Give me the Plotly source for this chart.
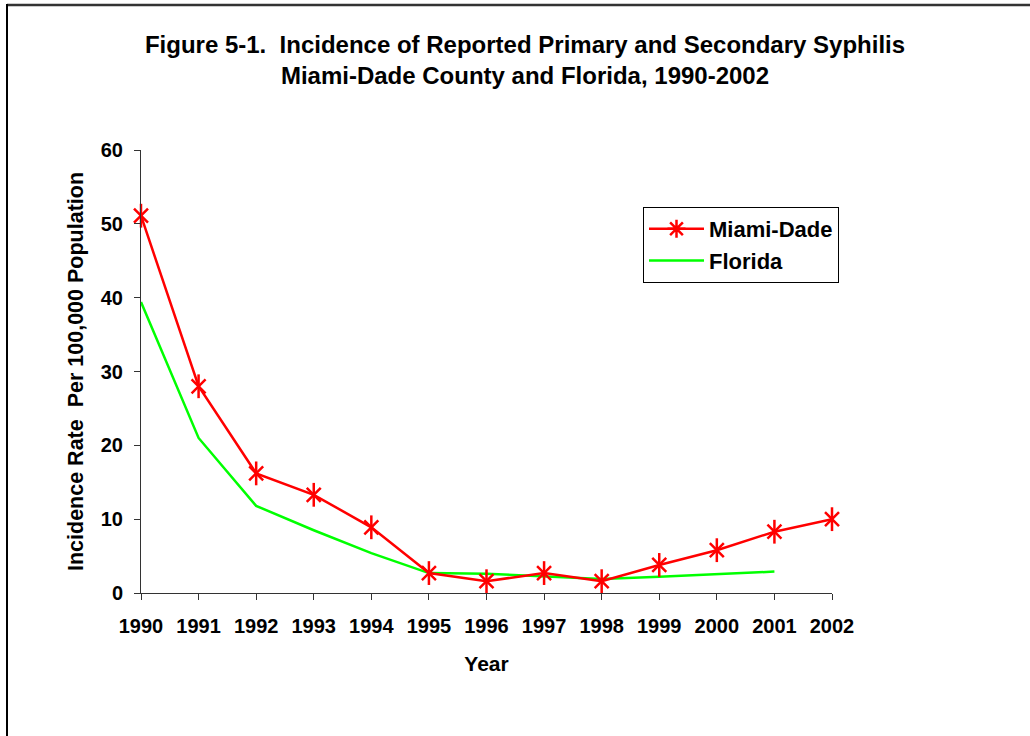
import plotly.graph_objects as go

years = [1990, 1991, 1992, 1993, 1994, 1995, 1996, 1997, 1998, 1999, 2000, 2001, 2002]
miami_dade = [51.1, 28.0, 16.2, 13.3, 8.9, 2.7, 1.6, 2.7, 1.6, 3.8, 5.8, 8.3, 10.0]
florida_years = [1990, 1991, 1992, 1993, 1994, 1995, 1996, 1997, 1998, 1999, 2000, 2001]
florida = [39.4, 21.0, 11.8, 8.5, 5.4, 2.7, 2.6, 2.2, 1.9, 2.2, 2.6, 2.9]
y_ticks = [0, 10, 20, 30, 40, 50, 60]

FONT = "Liberation Sans, Arial, sans-serif"
RED = "#ff0000"
GREEN = "#00ff00"

fig = go.Figure()
# Florida line
fig.add_trace(go.Scatter(
    x=florida_years, y=florida, mode="lines", name="<b>Florida</b>",
    line=dict(color=GREEN, width=2.5), cliponaxis=False, legendrank=2,
))
# Miami-Dade line with star markers (X + vertical bar)
fig.add_trace(go.Scatter(
    x=years, y=miami_dade, mode="lines+markers", name="Miami-Dade",
    line=dict(color=RED, width=2.5),
    marker=dict(symbol="x-thin-open", size=14, color=RED, line=dict(color=RED, width=2.5)),
    cliponaxis=False, showlegend=False,
))
fig.add_trace(go.Scatter(
    x=years, y=miami_dade, mode="markers", name="Miami-Dade",
    marker=dict(symbol="line-ns-open", size=17, color=RED, line=dict(color=RED, width=2.5)),
    cliponaxis=False, showlegend=False,
))
# legend entry for Miami-Dade
fig.add_trace(go.Scatter(
    x=[None], y=[None], mode="lines+markers", name="<b>Miami-Dade</b>",
    line=dict(color=RED, width=2.5),
    marker=dict(symbol="asterisk-open", size=15, color=RED, line=dict(color=RED, width=2.5)),
    legendrank=1,
))

W, H = 1030, 736
L, R, T, B = 141, 832, 150, 593
pw, ph = R - L, B - T

def px2paper_x(px):
    return (px - L) / pw

def px2paper_y(py):
    return (B - py) / ph

fig.update_layout(
    width=W, height=H,
    margin=dict(l=L, r=W - R, t=T, b=H - B, pad=0),
    paper_bgcolor="white", plot_bgcolor="white",
    font=dict(family=FONT, color="black"),
    title=dict(
        text="<b>Figure 5-1.  Incidence of Reported Primary and Secondary Syphilis<br>Miami-Dade County and Florida, 1990-2002</b>",
        x=525 / W, xanchor="center", xref="container", y=1 - 52.5 / H, yanchor="middle",
        font=dict(size=24, family=FONT),
    ),
    xaxis=dict(
        range=[1990, 2002], tickmode="array", tickvals=years,
        ticktext=[f"<b>{y}</b>" for y in years],
        showgrid=False, zeroline=False, showline=True, linecolor="#333333", linewidth=1,
        ticks="outside", ticklen=6, tickcolor="#333333", ticklabelstandoff=9,
        tickfont=dict(size=20, family=FONT),
        title=dict(text="<b>Year</b>", font=dict(size=21, family=FONT), standoff=20),
    ),
    yaxis=dict(
        range=[0, 60], tickmode="array", tickvals=y_ticks,
        ticktext=[f"<b>{v}</b>" for v in y_ticks],
        showgrid=False, zeroline=False, showline=True, linecolor="#333333", linewidth=1,
        ticks="outside", ticklen=6, tickcolor="#333333", ticklabelstandoff=7,
        tickfont=dict(size=20, family=FONT),
        title=dict(text="<b>Incidence Rate  Per 100,000 Population</b>", font=dict(size=21.5, family=FONT), standoff=11),
    ),
    legend=dict(
        x=px2paper_x(643), y=px2paper_y(207), xanchor="left", yanchor="top",
        bordercolor="black", borderwidth=1, bgcolor="white",
        font=dict(size=22, family=FONT), itemwidth=55, tracegroupgap=0,
    ),
    showlegend=True,
)

# outer chart border (top and left visible)
fig.add_shape(type="line", xref="paper", yref="paper",
              x0=px2paper_x(7), x1=px2paper_x(1030), y0=px2paper_y(5), y1=px2paper_y(5),
              line=dict(color="#333333", width=2.5))
fig.add_shape(type="line", xref="paper", yref="paper",
              x0=px2paper_x(7), x1=px2paper_x(7), y0=px2paper_y(4), y1=px2paper_y(736),
              line=dict(color="black", width=2))

fig.write_html(
    "out.html",
    config={"displayModeBar": False},
    post_script="document.body.style.margin='0';document.body.style.overflow='hidden';",
)
